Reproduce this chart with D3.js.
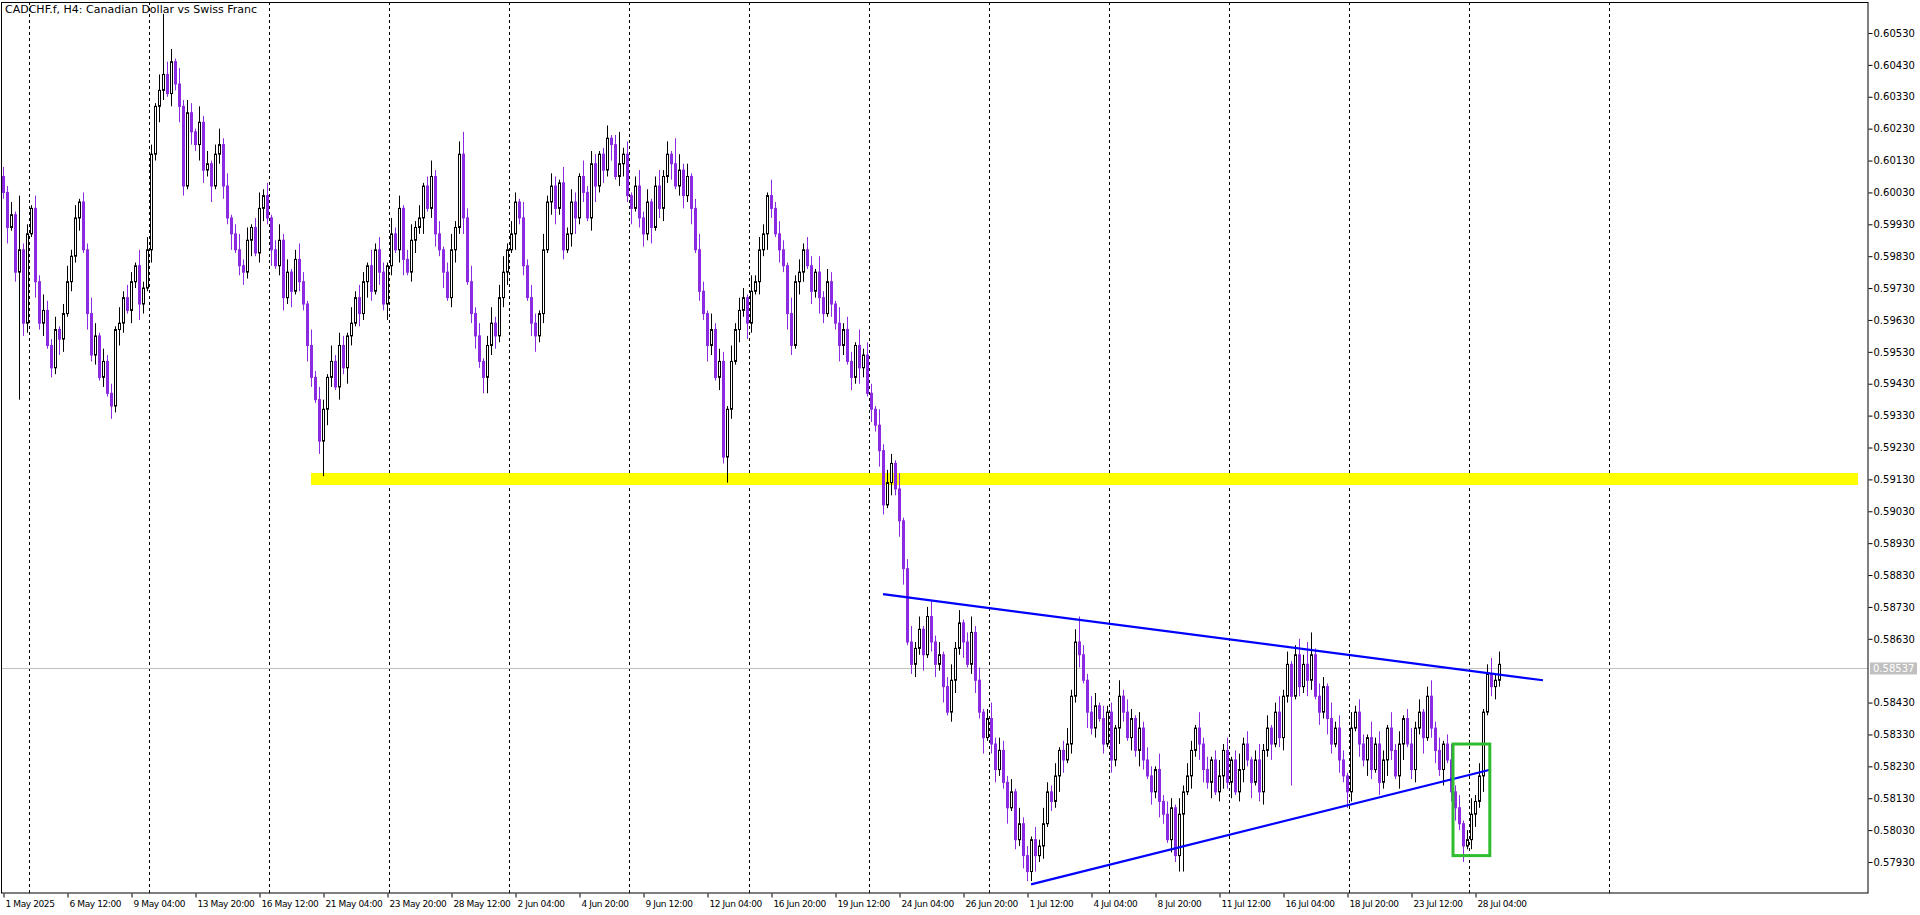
<!DOCTYPE html>
<html><head><meta charset="utf-8">
<script src="https://cdn.jsdelivr.net/npm/d3@7"></script>
<style>body{margin:0;background:#fff}svg{display:block}text{font-family:"DejaVu Sans",Tahoma,sans-serif}</style>
</head><body><svg id="c" width="1920" height="915"></svg>
<script>
// closes in pips (x 1e-4)
const closes = [
6003,5992,5996, 5978,5985,5962, 5990,5998,5975, 5962,5966,5955, 5948,5960,5957, 5965,5975,5983, 5995,6000,5985,
5965,5952,5958, 5945,5950,5940, 5936,5960,5962, 5970,5966,5975, 5980,5968,5973, 5985,6015,6030, 6035,6040,6034,
6044,6037,6030, 6005,6028,6022, 6018,6025,6010,6012, 6005,6015,6018, 6005,5995,5990, 5985,5980,5978, 5988,5992,5984,
5998,6002,5995, 5985,5980,5988, 5970,5978,5972, 5982,5975,5968, 5955,5945,5938, 5925,5935,5945, 5950,5942,5955,
5948,5958,5962, 5970,5965,5975, 5980,5972,5985, 5978,5968,5980, 5990,5985,5998, 5982,5978,5988,5992, 5995,6005,5998,
6008,5990,5985, 5978,5970,5985, 5992,6015,5995, 5975,5965,5958, 5950,5945,5955, 5962,5958,5970, 5978,5985,5990,
6000,5995,5980, 5970,5962,5958, 5965,5985,6000, 6005,5998,6006, 5985,5990,6000, 5995,6008,6003, 5995,6012,6005,
6015,6010,6020, 6018,6008,6012,6015, 6002,5998,6005, 5995,5990,6000, 5992,6005,5998, 6008,6015,6012, 6005,6010,6002,
6008,5998,5985, 5972,5965,5955, 5960,5945,5950, 5920,5935,5950, 5960,5966,5970, 5962,5972,5975, 5985,5990,6002,
5998,5990,5985, 5980,5965,5955, 5975,5978,5985, 5980,5972,5978, 5970,5965,5975,5968, 5962,5955,5960, 5950,5945,5955,
5948,5952,5940, 5935,5930,5922, 5905,5912,5918, 5910,5900,5885, 5862,5855,5860, 5866,5858,5870, 5862,5855,5858,
5848,5840,5850, 5860,5868,5862, 5855,5865,5850, 5840,5832,5838, 5830,5822,5828, 5818,5810,5815, 5800,5805,5795,
5790,5800,5795,5798, 5805,5815,5812, 5820,5828,5825, 5830,5845,5862, 5858,5850,5840, 5835,5842,5838, 5830,5840,5825,
5835,5845,5840, 5832,5838,5828, 5835,5825,5820, 5815,5822,5812, 5808,5800,5810, 5795,5808,5815, 5820,5828,5835,
5830,5822,5818, 5825,5815,5820, 5828,5818,5825, 5815,5822,5830,5825, 5818,5825,5815, 5828,5835,5830, 5840,5832,5845,
5855,5845,5858, 5848,5855,5850, 5858,5845,5840, 5848,5838,5830, 5835,5825,5820, 5815,5835,5840, 5830,5825,5832,
5822,5830,5818, 5825,5835,5828, 5820,5830,5838, 5830,5822,5835, 5840,5832,5845, 5835,5828,5822, 5830,5825,5815,5810,
5805,5798,5800, 5808,5812,5820, 5840,5852,5848, 5850,5855
];
const firstOpen = 6008;
const upWicks =
"3241523142532413524132541"+"4231524315243152431524315"+"2413524135241352413524135"+"3152431524315243152431524"+
"1352413524135241352413524"+"5243152431524315243152431"+"2413524135241352413524135"+"3152431524315243152431524"+
"2431524315243152431524315"+"1352413524135241352413524"+"3241523142532413524132541"+"4231524315243152431524315"+
"2413524135241352413524135"+"3152431524315243152431524"+"1352413524135241352413524";
const downWicks =
"2513243152413254132415231"+"3142531425314253142531425"+"4251342513425134251342513"+"2531425314253142531425314"+
"5134251342513425134251342"+"3415231452314523145231452"+"4251342513425134251342513"+"2531425314253142531425314"+
"3142531425314253142531425"+"5134251342513425134251342"+"2513243152413254132415231"+"3142531425314253142531425"+
"4251342513425134251342513"+"2531425314253142531425314"+"5134251342513425134251342";
const spikeHighs = [[4,6002],[40,6059],[42,6048],[115,6022],[154,6022],[168,6020],[269,5870],[327,5865],[326,5862]];
const spikeLows = [[4,5938],[27,5932],[80,5914],[121,5940],[181,5912],[257,5787],[295,5790],[322,5817],[336,5812],[365,5795]];
const xLabels = ["1 May 2025","6 May 12:00","9 May 04:00","13 May 20:00","16 May 12:00","21 May 04:00","23 May 20:00","28 May 12:00","2 Jun 04:00","4 Jun 20:00","9 Jun 12:00","12 Jun 04:00","16 Jun 20:00","19 Jun 12:00","24 Jun 04:00","26 Jun 20:00","1 Jul 12:00","4 Jul 04:00","8 Jul 20:00","11 Jul 12:00","16 Jul 04:00","18 Jul 20:00","23 Jul 12:00","28 Jul 04:00"];
const labelStep = 16;
const weekStarts = [7,37,67,97,127,157,187,217,247,277,307,337,367,402];
const yTicks = [0.57930,0.58030,0.58130,0.58230,0.58330,0.58430,0.58630,0.58730,0.58830,0.58930,0.59030,0.59130,0.59230,0.59330,0.59430,0.59530,0.59630,0.59730,0.59830,0.59930,0.60030,0.60130,0.60230,0.60330,0.60430,0.60530];
const lastPrice = 0.58537;
const supportZone = [0.59150, 0.59125];
const supportStart = 77;
const upperTrend = [[220,0.5877],[385,0.5850]];
const lowerTrend = [[257,0.5786],[372,0.5822]];
const box = {i0:362.5, i1:371.7, p0:0.5830, p1:0.5795};

const W=1920,H=915,R=1868,B=893;
const svg=d3.select("#c");
const x=d3.scaleLinear().domain([0,1]).range([3,7]);
const y=d3.scaleLinear().domain([0.57930,0.60530]).range([862,33]);

const hiMap=new Map(spikeHighs), loMap=new Map(spikeLows);
const bars=closes.map((c,i)=>{
  const o=i===0?firstOpen:closes[i-1];
  let h=Math.max(o,c)+(+upWicks[i]||2), l=Math.min(o,c)-(+downWicks[i]||2);
  if(hiMap.has(i)) h=Math.max(h,hiMap.get(i));
  if(loMap.has(i)) l=Math.min(l,loMap.get(i));
  return {i,o:o/1e4,c:c/1e4,h:h/1e4,l:l/1e4};
});

const g=svg.append("g");
g.selectAll("line.sep").data(weekStarts).join("line")
 .attr("x1",d=>Math.round(x(d-0.5))+0.5).attr("x2",d=>Math.round(x(d-0.5))+0.5)
 .attr("y1",2).attr("y2",B).attr("stroke","#000").attr("stroke-dasharray","3,3").attr("stroke-width",1);
g.append("rect").attr("x",x(supportStart)).attr("y",y(supportZone[0]))
 .attr("width",1858-x(supportStart)).attr("height",y(supportZone[1])-y(supportZone[0])+4).attr("fill","#ffff00");
g.append("line").attr("x1",1).attr("x2",R).attr("y1",Math.round(y(lastPrice))+0.5).attr("y2",Math.round(y(lastPrice))+0.5).attr("stroke","#c0c0c0");
const cg=g.append("g");
cg.selectAll("line").data(bars).join("line")
 .attr("x1",d=>Math.round(x(d.i))+0.5).attr("x2",d=>Math.round(x(d.i))+0.5)
 .attr("y1",d=>y(d.h)).attr("y2",d=>y(d.l))
 .attr("stroke",d=>d.c>=d.o?"#000":"#8a2be2");
cg.selectAll("rect").data(bars).join("rect")
 .attr("x",d=>Math.round(x(d.i))-1+0.5).attr("width",2)
 .attr("y",d=>y(Math.max(d.o,d.c))).attr("height",d=>Math.max(1,y(Math.min(d.o,d.c))-y(Math.max(d.o,d.c))))
 .attr("fill",d=>d.c>=d.o?"#fff":"#8a2be2").attr("stroke",d=>d.c>=d.o?"#000":"#8a2be2");
[upperTrend,lowerTrend].forEach(t=>{
  g.append("line").attr("x1",x(t[0][0])).attr("y1",y(t[0][1])).attr("x2",x(t[1][0])).attr("y2",y(t[1][1]))
   .attr("stroke","#0000ff").attr("stroke-width",2.2);
});
g.append("rect").attr("x",x(box.i0)).attr("y",y(box.p0)).attr("width",x(box.i1)-x(box.i0)).attr("height",y(box.p1)-y(box.p0))
 .attr("fill","none").attr("stroke","#2ebd2e").attr("stroke-width",3);

svg.append("rect").attr("x",1.5).attr("y",2.5).attr("width",R-1.5).attr("height",B-2.5).attr("fill","none").attr("stroke","#000");

const ya=svg.append("g").attr("transform",`translate(${R+0.5},0)`)
 .call(d3.axisRight(y).tickValues(yTicks).tickFormat(d3.format(".5f")).tickSize(4).tickPadding(1));
ya.select(".domain").remove();
ya.selectAll("text").attr("font-size",10).attr("font-family","DejaVu Sans");
svg.append("rect").attr("x",R+2).attr("y",y(lastPrice)-6).attr("width",47).attr("height",12).attr("fill","#c0c0c0");
svg.append("text").attr("x",R+5).attr("y",y(lastPrice)+4).attr("fill","#fff").attr("font-size",10).text(d3.format(".5f")(lastPrice));

const xa=svg.append("g").attr("transform",`translate(0,${B+0.5})`)
 .call(d3.axisBottom(x).tickValues(xLabels.map((_,k)=>k*labelStep)).tickFormat((d,k)=>xLabels[k]).tickSize(4));
xa.select(".domain").remove();
xa.selectAll("text").attr("text-anchor","start").attr("dx",2).attr("font-size",9).attr("letter-spacing","-0.4px").attr("font-family","DejaVu Sans Condensed");
xa.selectAll(".tick line").attr("transform","translate(0.5,0)");

svg.append("text").attr("x",5).attr("y",13).attr("font-size",11).text("CADCHF.f, H4:  Canadian Dollar vs Swiss Franc");
</script></body></html>
